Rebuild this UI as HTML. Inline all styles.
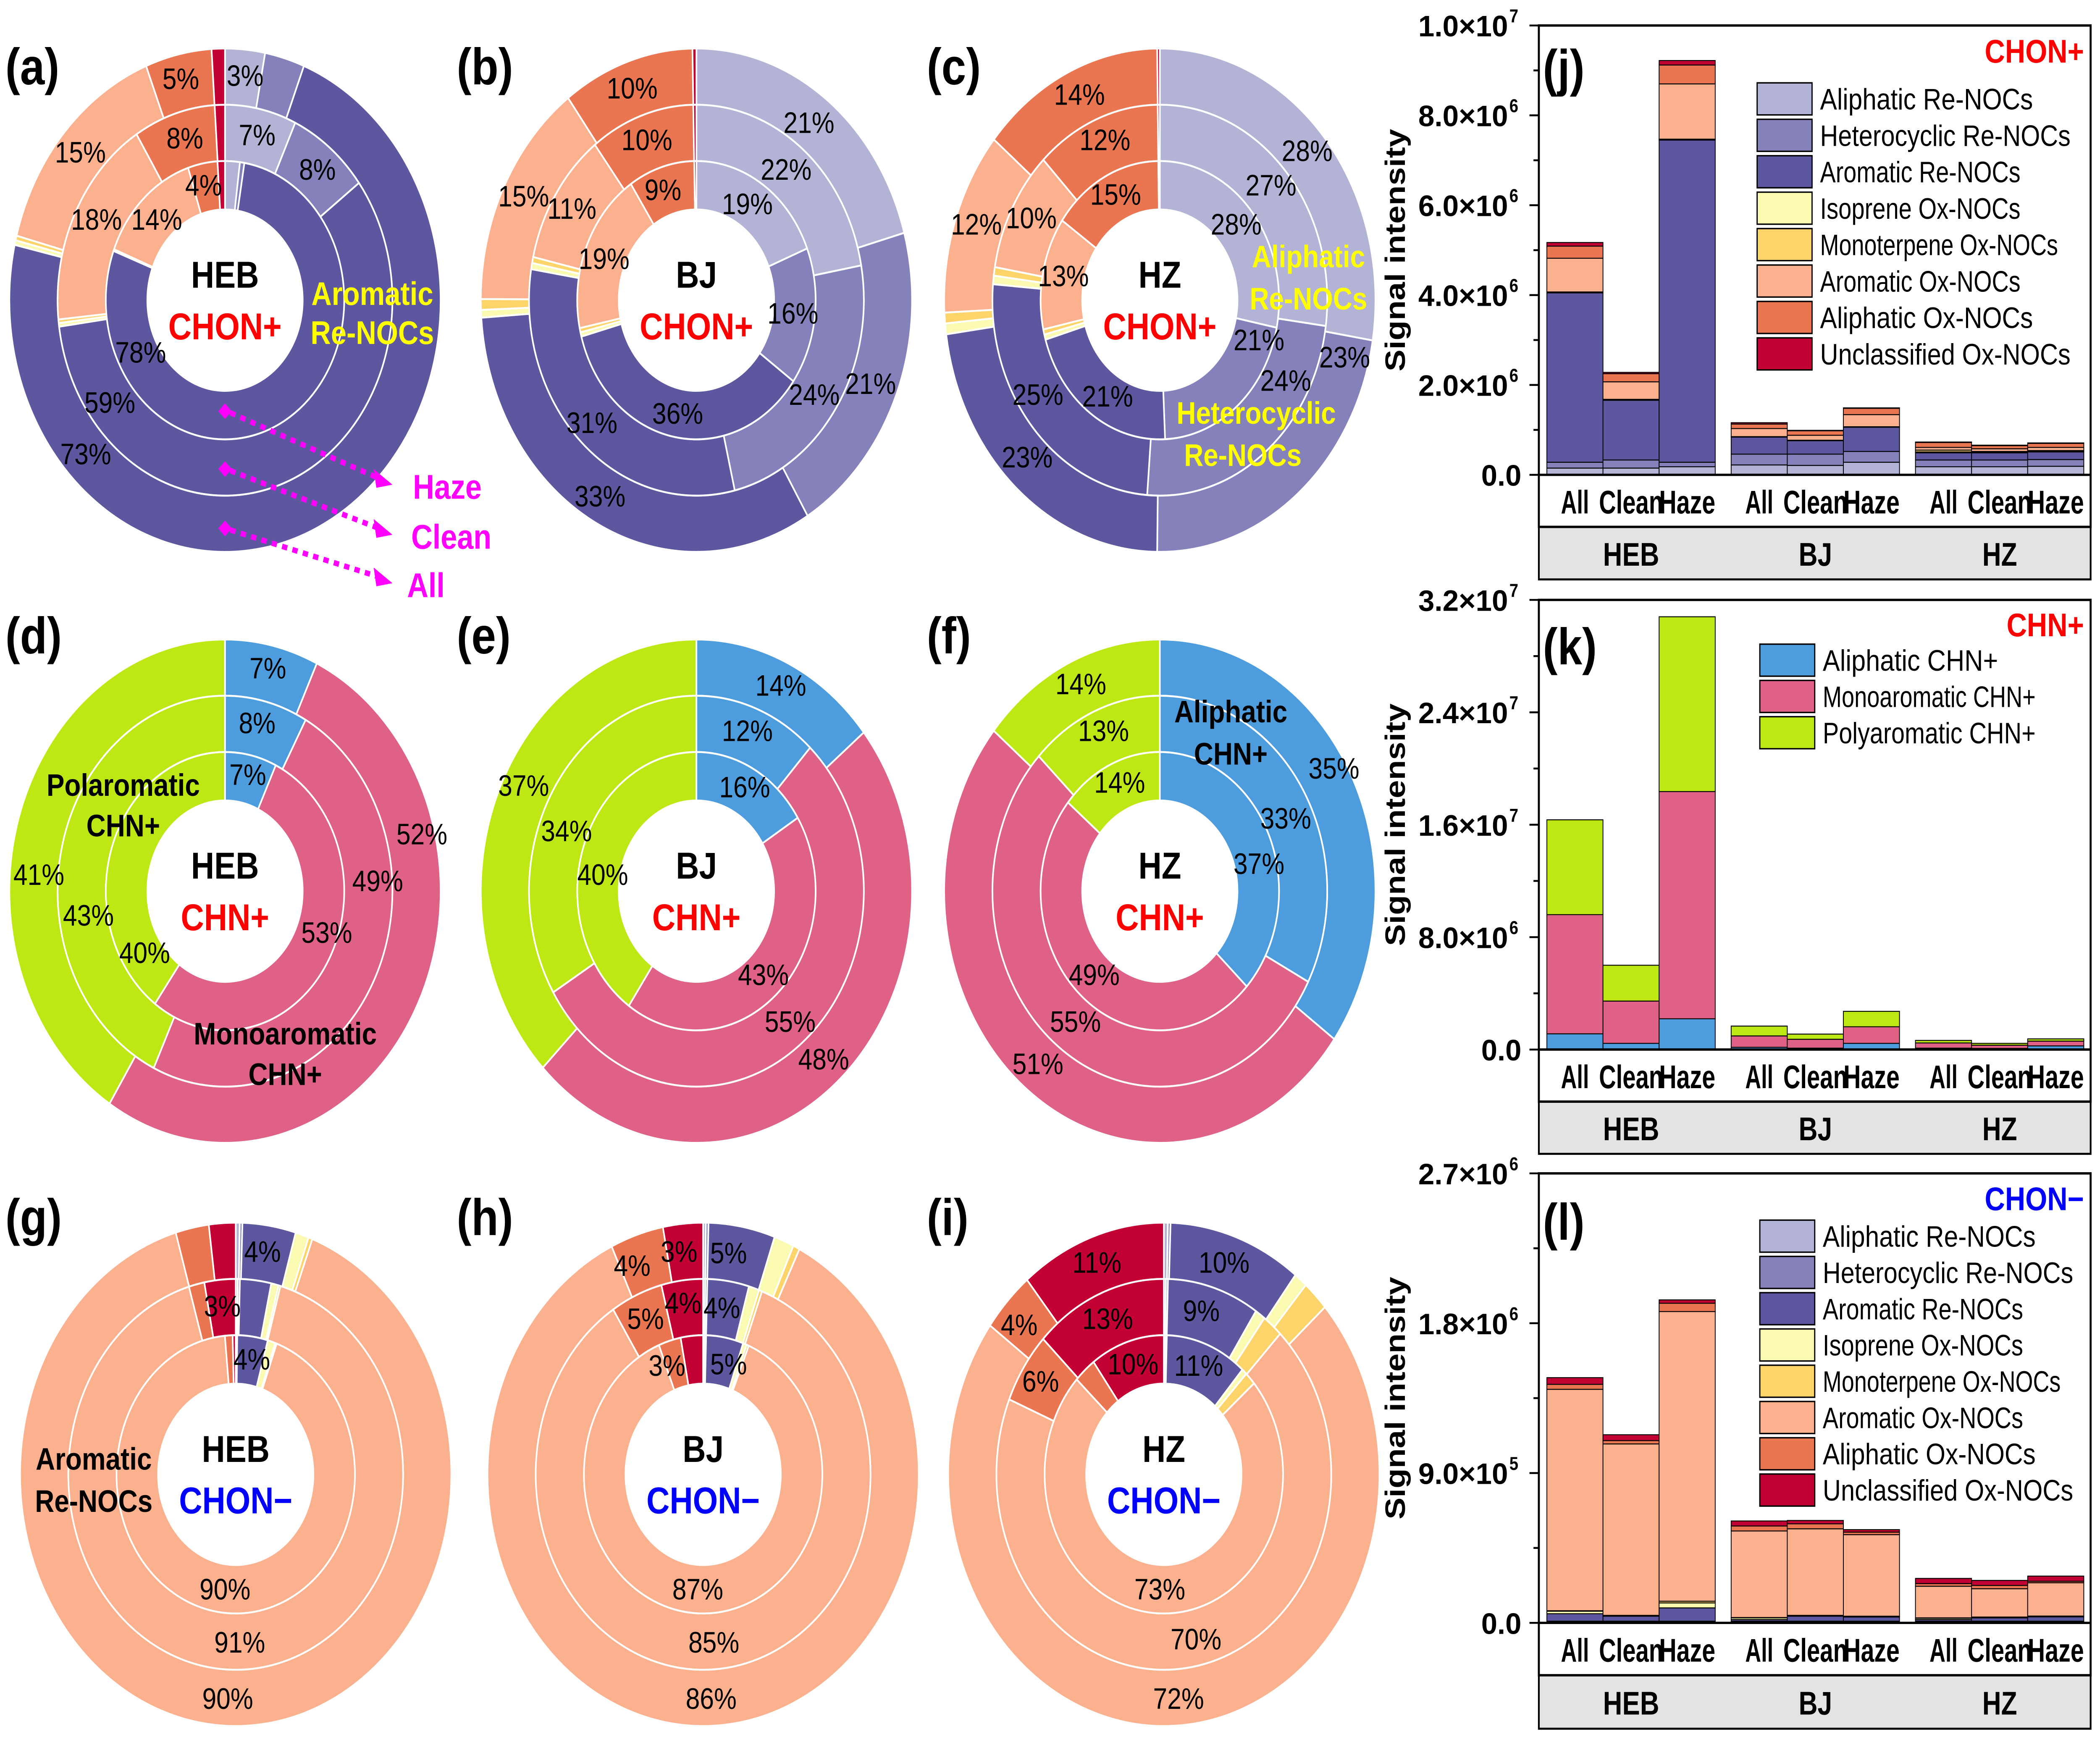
<!DOCTYPE html>
<html><head><meta charset="utf-8"><title>NOC composition</title>
<style>
html,body{margin:0;padding:0;background:#fff;width:100%;height:100%;overflow:hidden;}
svg{display:block;font-family:"Liberation Sans",Arial,sans-serif;width:100vw;height:100vh;}
</style></head>
<body>
<svg id="fig" xmlns="http://www.w3.org/2000/svg" viewBox="0 0 1568 1111" preserveAspectRatio="none">
<g id="pies"></g>
<g id="bars"></g>
<g id="labels"></g>
</svg>
<script>
// ---------- data ----------
const chonColors = ["#b3b3d6","#8582bb","#5c579f","#fafab0","#fdd46a","#fbb08e","#ea7651","#c20033"];
const chnColors = ["#4d9dde","#e06186","#bde814"];
const chonNames = ["Aliphatic Re-NOCs","Heterocyclic Re-NOCs","Aromatic Re-NOCs","Isoprene Ox-NOCs","Monoterpene Ox-NOCs","Aromatic Ox-NOCs","Aliphatic Ox-NOCs","Unclassified Ox-NOCs"];
const chnNames = ["Aliphatic CHN+","Monoaromatic CHN+","Polyaromatic CHN+"];

const pieA_all=[3,3,73,0.3,0.3,15,5,1], pieA_clean=[7,8,59,0.3,0.3,18,8,1], pieA_haze=[2,0.6,78,0.1,0.1,14,4,1];
const pieB_all=[21,21,33,0.5,0.7,15,10,0.3], pieB_clean=[22,24,31,0.5,0.5,11,10,0.3], pieB_haze=[19,16,36,0.5,0.5,19,9,0.3];
const pieC_all=[28,23,23,0.7,0.7,12,14,0.2], pieC_clean=[27,24,25,0.7,0.7,10,12,0.2], pieC_haze=[28,21,21,0.6,0.6,13,15,0.2];
const pieD_all=[7,52,41], pieD_clean=[8,49,43], pieD_haze=[7,53,40];
const pieE_all=[14,48,37], pieE_clean=[12,55,34], pieE_haze=[16,43,40];
const pieF_all=[35,51,14], pieF_clean=[33,55,13], pieF_haze=[37,49,14];
const pieG_all=[0.3,0.2,4,1,0.3,90,2.5,2], pieG_clean=[0.2,0.2,3,0.7,0.2,91,1.5,3], pieG_haze=[0.1,0.1,4,1,0.2,90,1,0.4];
const pieH_all=[0.2,0.2,5,1.5,0.5,86,4,3], pieH_clean=[0.2,0.2,4,1,0.3,85,5,4], pieH_haze=[0.2,0.2,5,0.5,0.3,87,3,3];
const pieI_all=[0.3,0.2,10,1,2,72,4,11], pieI_clean=[0.2,0.2,9,1,2,70,6,13], pieI_haze=[0.2,0.2,11,0.7,1.5,73,3,10];

const barCategories=["All","Clean","Haze","All","Clean","Haze","All","Clean","Haze"];
const barGroups=["HEB","BJ","HZ"];
// panel j (CHON+), units 1e6, stacked increments
const j_alRe=[0.15,0.15,0.18,0.22,0.21,0.28,0.18,0.18,0.19];
const j_hetRe=[0.13,0.18,0.10,0.24,0.25,0.24,0.15,0.15,0.15];
const j_aroRe=[3.77,1.33,7.17,0.38,0.30,0.54,0.16,0.16,0.17];
const j_iso=[0.01,0.01,0.01,0.005,0.005,0.005,0.02,0.01,0.01];
const j_mono=[0.01,0.01,0.01,0.005,0.005,0.005,0.04,0.02,0.02];
const j_aroOx=[0.75,0.39,1.23,0.18,0.11,0.27,0.06,0.06,0.07];
const j_alOx=[0.27,0.18,0.42,0.10,0.10,0.14,0.11,0.07,0.09];
const j_uncl=[0.08,0.03,0.10,0.03,0.01,0.01,0.01,0.01,0.01];
const j_ticks=["0.0","2.0×10|6","4.0×10|6","6.0×10|6","8.0×10|6","1.0×10|7"];
// panel k (CHN+), units 1e6
const k_al=[1.12,0.44,2.19,0.16,0.10,0.44,0.10,0.08,0.26];
const k_mono=[8.48,3.01,16.17,0.81,0.63,1.18,0.37,0.23,0.34];
const k_poly=[6.75,2.55,12.44,0.70,0.37,1.10,0.18,0.13,0.16];
const k_ticks=["0.0","8.0×10|6","1.6×10|7","2.4×10|7","3.2×10|7"];
// panel l (CHON-), units 1e6
const l_alRe=[0.005,0.005,0.005,0.005,0.005,0.005,0.005,0.005,0.005];
const l_hetRe=[0.005,0.005,0.005,0.005,0.005,0.005,0.005,0.005,0.005];
const l_aroRe=[0.045,0.03,0.08,0.01,0.03,0.025,0.01,0.02,0.026];
const l_iso=[0.015,0.003,0.03,0.01,0.003,0.003,0.008,0.003,0.003];
const l_mono=[0.003,0.002,0.01,0.002,0.002,0.002,0.002,0.002,0.002];
const l_aroOx=[1.33,1.03,1.74,0.52,0.52,0.49,0.19,0.17,0.20];
const l_alOx=[0.03,0.02,0.05,0.03,0.03,0.015,0.016,0.02,0.009];
const l_uncl=[0.04,0.035,0.02,0.03,0.02,0.015,0.031,0.03,0.031];
const l_ticks=["0.0","9.0×10|5","1.8×10|6","2.7×10|6"];

// ---------- helpers ----------
const NS="http://www.w3.org/2000/svg";
function mk(tag,attrs,parent){const e=document.createElementNS(NS,tag);for(const k in attrs)e.setAttribute(k,attrs[k]);if(parent)parent.appendChild(e);return e;}
function txt(parent,x,y,s,style,name){const t=mk("text",{x:x,y:y},parent);if(style)t.setAttribute("style",style);t.textContent=s;


return t;}

function sector(cx,cy,r0,r1,a0,a1){
 const p=(r,a)=>[cx+r*Math.sin(a),cy-r*Math.cos(a)];
 const large=(a1-a0)>Math.PI?1:0;
 const [x0,y0]=p(r1,a0),[x1,y1]=p(r1,a1),[x2,y2]=p(r0,a1),[x3,y3]=p(r0,a0);
 return `M${x0},${y0}A${r1},${r1} 0 ${large} 1 ${x1},${y1}L${x2},${y2}A${r0},${r0} 0 ${large} 0 ${x3},${y3}Z`;
}
const pies=document.getElementById("pies");
function drawRing(g,cx,cy,r0,r1,vals,colors,ringName){
 const tot=vals.reduce((a,b)=>a+b,0);let c=0;
 vals.forEach((v,i)=>{const a0=c/tot*2*Math.PI;c+=v;const a1=c/tot*2*Math.PI;
  const p=mk("path",{d:sector(cx,cy,r0,r1,a0,a1),fill:colors[i],stroke:"#fff","stroke-width":1.2},g);
  
  
 });
}
function drawPie(name,cx,cy,all,clean,haze,colors){
 const g=mk("g",{},pies);
 
 
 drawRing(g,cx,cy,125,161,all,colors,name+'-all');
 drawRing(g,cx,cy,89,125,clean,colors,name+'-clean');
 drawRing(g,cx,cy,58,89,haze,colors,name+'-haze');
}
drawPie("pie-a-heb-chon-pos",168,192,pieA_all,pieA_clean,pieA_haze,chonColors);
drawPie("pie-b-bj-chon-pos",520,192,pieB_all,pieB_clean,pieB_haze,chonColors);
drawPie("pie-c-hz-chon-pos",866,192,pieC_all,pieC_clean,pieC_haze,chonColors);
drawPie("pie-d-heb-chn",168,570,pieD_all,pieD_clean,pieD_haze,chnColors);
drawPie("pie-e-bj-chn",520,570,pieE_all,pieE_clean,pieE_haze,chnColors);
drawPie("pie-f-hz-chn",866,570,pieF_all,pieF_clean,pieF_haze,chnColors);
drawPie("pie-g-heb-chon-neg",176,943,pieG_all,pieG_clean,pieG_haze,chonColors);
drawPie("pie-h-bj-chon-neg",525,943,pieH_all,pieH_clean,pieH_haze,chonColors);
drawPie("pie-i-hz-chon-neg",869,943,pieI_all,pieI_clean,pieI_haze,chonColors);

// ---------- bar charts ----------
const bars=document.getElementById("bars");
const PL=1149,PR=1561;
function barX(i){return 1155+Math.floor(i/3)*137.6+(i%3)*41.9;}
function drawBarPanel(name,top,zero,catB,boxB,max,series,colors,ticks,minorStep,majorStep){
 const g=mk("g",{},bars);
 
 
 const y=v=>zero-v/max*(zero-top);
 for(let i=0;i<barCategories.length;i++){
  let c=0;
  series.forEach((s,si)=>{const v=s[i];
   const r=mk("rect",{x:barX(i),y:y(c+v),width:41.9,height:Math.max(0,y(c)-y(c+v)),fill:colors[si],stroke:"#000","stroke-width":0.6},g);
   
   
   c+=v;});
 }
 mk("rect",{x:PL,y:catB,width:PR-PL,height:boxB-catB,fill:"#e3e3e3",stroke:"#000","stroke-width":1.3},g);
 mk("path",{d:`M${PL},${top}H${PR}V${catB}H${PL}Z M${PL},${zero}H${PR}`,fill:"none",stroke:"#000","stroke-width":1.5},g);
 for(let v=0;v<=max+1e-9;v+=minorStep){const yy=y(v);const major=Math.abs(v/majorStep-Math.round(v/majorStep))<1e-6;
  mk("line",{x1:PL-(major?7:4),x2:PL,y1:yy,y2:yy,stroke:"#000","stroke-width":1.2},g);}
 ticks.forEach((t,i)=>{const yy=y(i*majorStep);const parts=t.split("|");
  if(parts.length===1){const e=txt(g,1136,yy+7,parts[0],"font-size:19px;font-weight:bold;text-anchor:end",'y-tick-label');e.setAttribute("textLength",30);e.setAttribute("lengthAdjust","spacingAndGlyphs");}
  else{const e=txt(g,1126,yy+7,parts[0],"font-size:19px;font-weight:bold;text-anchor:end",'y-tick-label');e.setAttribute("textLength",67);e.setAttribute("lengthAdjust","spacingAndGlyphs");
   txt(g,1127,yy-2,parts[1],"font-size:12px;font-weight:bold",'y-tick-exponent');}
 });
 const yt=txt(g,0,0,"Signal intensity","font-size:21px;font-weight:bold;text-anchor:middle",'y-axis-title');
 yt.setAttribute("transform",`translate(1049,${(top+zero)/2}) rotate(-90)`);
 const catW={All:21,Clean:48,Haze:42};
 barCategories.forEach((c,i)=>{const e=txt(g,barX(i)+21,(zero+catB)/2+8,c,"font-size:21px;font-weight:bold;text-anchor:middle",'x-category-label');
  e.setAttribute("textLength",catW[c]);e.setAttribute("lengthAdjust","spacingAndGlyphs");});
 const gW={HEB:42,BJ:25,HZ:26};
 barGroups.forEach((s,gi)=>{const e=txt(g,barX(gi*3+1)+21,(catB+boxB)/2+8,s,"font-size:21px;font-weight:bold;text-anchor:middle",'x-group-label');
  e.setAttribute("textLength",gW[s]);e.setAttribute("lengthAdjust","spacingAndGlyphs");});
 return g;
}
function legend(g,x,y0,names,colors,step){
 names.forEach((n,i)=>{const yy=y0+i*step;
  const r=mk("rect",{x:x,y:yy,width:41,height:20.5,fill:colors[i],stroke:"#000","stroke-width":0.9},g);
  
  
  const t=txt(g,x+47,yy+17,n,"font-size:19px",'legend-entry');
  t.setAttribute("textLength",n.length*9.35);t.setAttribute("lengthAdjust","spacingAndGlyphs");
 });
}
const gj=drawBarPanel("panel-j-chon-pos",16.3,303.7,337,370.6,10,[j_alRe,j_hetRe,j_aroRe,j_iso,j_mono,j_aroOx,j_alOx,j_uncl],chonColors,j_ticks,1,2);
legend(gj,1312,53,chonNames,chonColors,23.3);
const gk=drawBarPanel("panel-k-chn",383.7,671.3,704.6,738,32,[k_al,k_mono,k_poly],chnColors,k_ticks,4,8);
legend(gk,1314,412,chnNames,chnColors,23.2);
const gl=drawBarPanel("panel-l-chon-neg",750.5,1038,1071.5,1105.7,2.7,[l_alRe,l_hetRe,l_aroRe,l_iso,l_mono,l_aroOx,l_alOx,l_uncl],chonColors,l_ticks,0.45,0.9);
legend(gl,1314,780.4,chonNames,chonColors,23.2);

// ---------- annotations ----------
const L=document.getElementById("labels");
function P(x,y,s){txt(L,x,y+7,s,"font-size:19px;text-anchor:middle",'percent-label');}
function B(x,y,s,col,sz){txt(L,x,y+8,s,`font-size:${sz||22}px;font-weight:bold;text-anchor:middle;fill:${col}`,'annotation');}
[["(a)",4,54],["(b)",341,54],["(c)",692,54],["(d)",4,418],["(e)",341,418],["(f)",692,418],["(g)",4,790],["(h)",341,790],["(i)",692,790],["(j)",1152,55],["(k)",1152,425],["(l)",1152,793]].forEach(a=>{
 txt(L,a[1],a[2],a[0],"font-size:33px;font-weight:bold",'panel-label');});
txt(L,1556,40,"CHON+","font-size:21px;font-weight:bold;fill:#f00;text-anchor:end",'chon-pos-tag');
txt(L,1556,407,"CHN+","font-size:21px;font-weight:bold;fill:#f00;text-anchor:end",'chn-tag');
txt(L,1556,774,"CHON\u2212","font-size:21px;font-weight:bold;fill:#00f;text-anchor:end",'chon-neg-tag');
[[168,192,"HEB","CHON+","#f00"],[520,192,"BJ","CHON+","#f00"],[866,192,"HZ","CHON+","#f00"],
 [168,570,"HEB","CHN+","#f00"],[520,570,"BJ","CHN+","#f00"],[866,570,"HZ","CHN+","#f00"],
 [176,943,"HEB","CHON\u2212","#00f"],[525,943,"BJ","CHON\u2212","#00f"],[869,943,"HZ","CHON\u2212","#00f"]].forEach(c=>{
 B(c[0],c[1]-16,c[2],"#000",24);B(c[0],c[1]+17,c[3],c[4],24);});
[[183,48,"3%"],[135,50,"5%"],[192,86,"7%"],[237,108,"8%"],[60,97,"15%"],[138,88,"8%"],[152,118,"4%"],[72,140,"18%"],[117,140,"14%"],[105,225,"78%"],[82,257,"59%"],[64,290,"73%"]].forEach(a=>P(...a));
B(278,187,"Aromatic","#ff0",21);B(278,212,"Re-NOCs","#ff0",21);
[[472,56,"10%"],[604,78,"21%"],[391,125,"15%"],[483,89,"10%"],[587,108,"22%"],[427,133,"11%"],[495,121,"9%"],[558,130,"19%"],[451,165,"19%"],[592,200,"16%"],[608,252,"24%"],[650,245,"21%"],[506,264,"36%"],[442,270,"31%"],[448,317,"33%"]].forEach(a=>P(...a));
[[806,60,"14%"],[976,96,"28%"],[825,89,"12%"],[949,118,"27%"],[833,124,"15%"],[923,143,"28%"],[729,143,"12%"],[770,139,"10%"],[794,176,"13%"],[940,217,"21%"],[960,243,"24%"],[1004,228,"23%"],[775,252,"25%"],[827,253,"21%"],[767,292,"23%"]].forEach(a=>P(...a));
B(977,163,"Aliphatic","#ff0",20);B(977,190,"Re-NOCs","#ff0",20);B(938,263,"Heterocyclic","#ff0",20);B(928,290,"Re-NOCs","#ff0",20);
[[200,427,"7%"],[192,462,"8%"],[185,495,"7%"],[315,533,"52%"],[282,563,"49%"],[244,596,"53%"],[29,559,"41%"],[66,585,"43%"],[108,609,"40%"]].forEach(a=>P(...a));
B(92,501,"Polaromatic","#000",20);B(92,527,"CHN+","#000",20);B(213,660,"Monoaromatic","#000",20);B(213,686,"CHN+","#000",20);
[[583,438,"14%"],[558,467,"12%"],[556,503,"16%"],[391,502,"37%"],[423,531,"34%"],[450,559,"40%"],[570,623,"43%"],[590,653,"55%"],[615,677,"48%"]].forEach(a=>P(...a));
[[807,437,"14%"],[824,467,"13%"],[836,500,"14%"],[996,491,"35%"],[960,523,"33%"],[940,552,"37%"],[817,623,"49%"],[803,653,"55%"],[775,680,"51%"]].forEach(a=>P(...a));
B(919,454,"Aliphatic","#000",20);B(919,481,"CHN+","#000",20);
[[196,800,"4%"],[166,835,"3%"],[188,869,"4%"],[168,1016,"90%"],[179,1050,"91%"],[170,1086,"90%"]].forEach(a=>P(...a));
B(70,932,"Aromatic","#000",20);B(70,959,"Re-NOCs","#000",20);
[[472,809,"4%"],[507,800,"3%"],[544,801,"5%"],[482,843,"5%"],[510,833,"4%"],[539,836,"4%"],[498,873,"3%"],[544,872,"5%"],[521,1016,"87%"],[533,1050,"85%"],[531,1086,"86%"]].forEach(a=>P(...a));
[[819,807,"11%"],[914,807,"10%"],[761,847,"4%"],[827,843,"13%"],[897,838,"9%"],[777,883,"6%"],[846,872,"10%"],[895,873,"11%"],[866,1016,"73%"],[893,1048,"70%"],[880,1086,"72%"]].forEach(a=>P(...a));
[[263,310,"Haze",334],[300,342,"Clean",337],[338,373,"All",318]].forEach(a=>{
 const g=mk("g",{},L);
 
 
 mk("path",{d:`M168,${a[0]-5}l5,5l-5,5l-5,-5z`,fill:"#f0f"},g);
 mk("line",{x1:172,y1:a[0]+1,x2:283,y2:a[1]-4,stroke:"#f0f","stroke-width":3.5,"stroke-dasharray":"4 4"},g);
 mk("path",{d:`M293,${a[1]}l-14,-10l2,12z`,fill:"#f0f"},g);
 txt(g,a[3],a[1]+9,a[2],"font-size:22px;font-weight:bold;fill:#f0f;text-anchor:middle",'ring-pointer-label');
});
</script>
</body></html>
